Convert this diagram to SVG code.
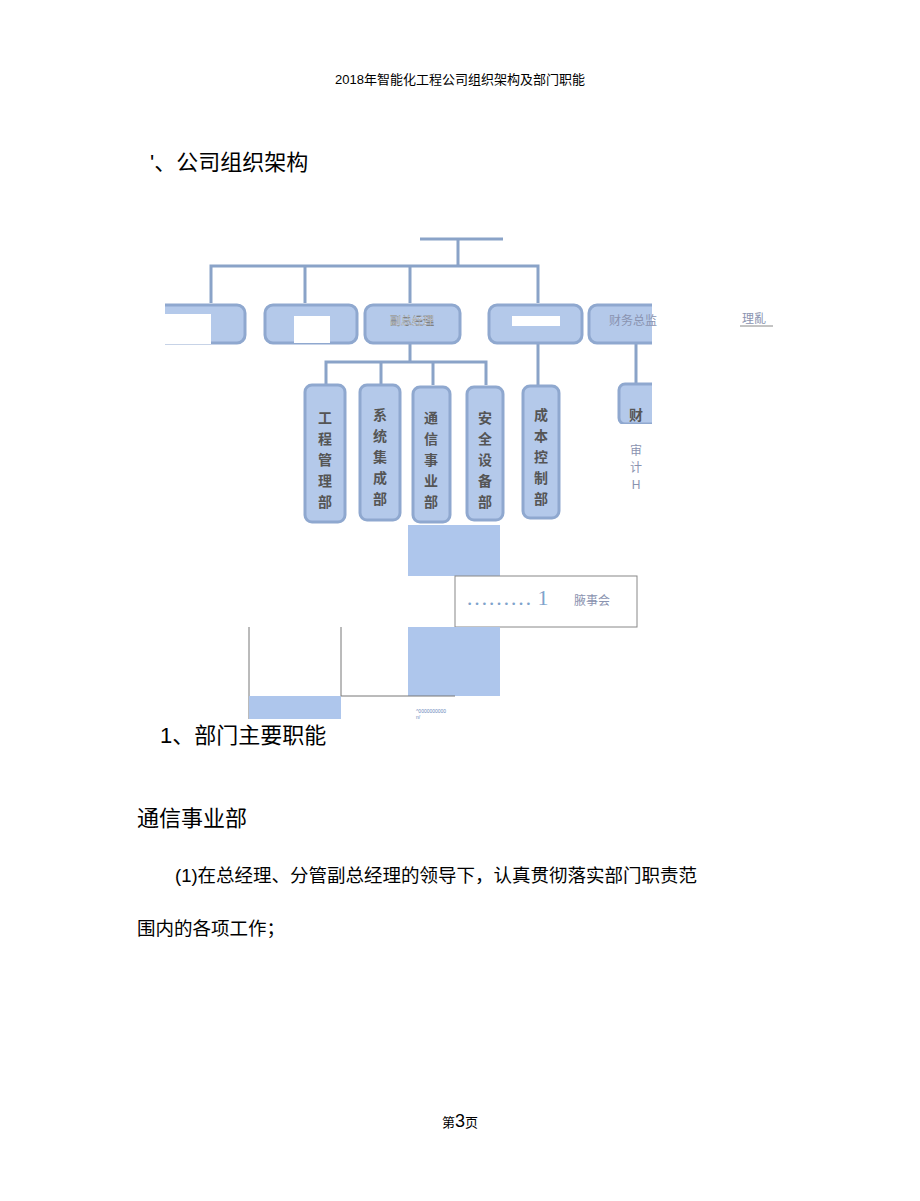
<svg xmlns="http://www.w3.org/2000/svg" width="920" height="1201" viewBox="0 0 920 1201">
<style>
.t{font-family:"Liberation Sans","Noto Sans CJK SC",sans-serif;fill:#000}
.b{fill:#b4c9ea;stroke:#8fa8cf;stroke-width:3}
.c{stroke:#8aa3c8;stroke-width:3;fill:none}
.v{font-family:"Noto Sans CJK SC",sans-serif;font-size:14px;fill:#555;text-anchor:middle;font-weight:bold}
.g{font-family:"Liberation Sans","Noto Sans CJK SC",sans-serif;fill:#8a93b0}
.f{fill:#aec6ec}
</style>
<rect width="920" height="1201" fill="#fff"/>
<text class="t" x="460" y="84" font-size="13" text-anchor="middle">2018年智能化工程公司组织架构及部门职能</text>
<text class="t" x="150" y="170" font-size="22">'、公司组织架构</text>
<g id="connectors">
<line x1="420" y1="239" x2="503" y2="239" class="c"/>
<path class="c" d="M458 239V266M211 303V266H538V303M305 266V303M410 266V303"/>
<path class="c" d="M410 343V362M326 385V362H486V385M381 362V385M433 362V385M538 343V385M636 343V383"/>
</g>
<g id="top-boxes">
<rect class="b" x="150" y="305" width="95" height="38" rx="8"/>
<rect x="140" y="300" width="25" height="48" fill="#fff"/>
<rect x="165" y="314" width="46" height="30" fill="#fff"/>
<rect class="b" x="265" y="305" width="92" height="38" rx="8"/>
<rect x="294" y="316" width="36" height="27" fill="#fff"/>
<rect class="b" x="365" y="305" width="95" height="38" rx="8"/>
<text x="412" y="325" font-family="Noto Sans CJK SC,sans-serif" font-size="11" fill="#fff" stroke="#666" stroke-width="0.3" text-anchor="middle">副总经理</text>
<rect class="b" x="489" y="305" width="93" height="38" rx="8"/>
<rect x="512" y="316" width="48" height="10" fill="#fff"/>
<rect class="b" x="589" y="305" width="80" height="38" rx="8"/>
<rect x="652" y="300" width="30" height="48" fill="#fff"/>
<text class="g" x="609" y="325" font-size="12">财务总监</text>
<text class="g" x="742" y="323" font-size="12">理亂</text>
<line x1="740" y1="326" x2="773" y2="326" stroke="#888" stroke-width="1"/>
</g>
<g id="departments">
<rect class="b" x="305" y="385" width="40" height="137" rx="7"/>
<text class="v" x="325" y="423">工</text><text class="v" x="325" y="444">程</text><text class="v" x="325" y="465">管</text><text class="v" x="325" y="486">理</text><text class="v" x="325" y="507">部</text>
<rect class="b" x="360" y="385" width="40" height="135" rx="7"/>
<text class="v" x="380" y="420">系</text><text class="v" x="380" y="441">统</text><text class="v" x="380" y="462">集</text><text class="v" x="380" y="483">成</text><text class="v" x="380" y="504">部</text>
<rect class="b" x="413" y="387" width="37" height="135" rx="7"/>
<text class="v" x="431" y="423">通</text><text class="v" x="431" y="444">信</text><text class="v" x="431" y="465">事</text><text class="v" x="431" y="486">业</text><text class="v" x="431" y="507">部</text>
<rect class="b" x="467" y="387" width="36" height="133" rx="7"/>
<text class="v" x="485" y="423">安</text><text class="v" x="485" y="444">全</text><text class="v" x="485" y="465">设</text><text class="v" x="485" y="486">备</text><text class="v" x="485" y="507">部</text>
<rect class="b" x="523" y="386" width="36" height="132" rx="7"/>
<text class="v" x="541" y="420">成</text><text class="v" x="541" y="441">本</text><text class="v" x="541" y="462">控</text><text class="v" x="541" y="483">制</text><text class="v" x="541" y="504">部</text>
<rect class="b" x="619" y="384" width="45" height="40" rx="6"/>
<rect x="652" y="378" width="20" height="50" fill="#fff"/>
<rect x="612" y="424" width="50" height="10" fill="#fff"/>
<text class="v" x="636" y="420">财</text>
<text class="g" x="636" y="455" font-size="12" text-anchor="middle">审</text>
<text class="g" x="636" y="472" font-size="12" text-anchor="middle">计</text>
<text class="g" x="636" y="489" font-size="12" text-anchor="middle" fill="#5577aa">H</text>
</g>
<g id="bottom">
<rect class="f" x="408" y="525" width="92" height="51"/>
<rect x="455" y="576" width="182" height="51" fill="#fff" stroke="#888" stroke-width="1"/>
<text x="466" y="605" font-family="Liberation Serif,serif" font-size="22" fill="#7fa3cc">……… 1</text>
<text class="g" x="574" y="605" font-size="12">腋事会</text>
<rect class="f" x="408" y="627" width="92" height="69"/>
<path d="M249 627V719M341 627V696H455" stroke="#777" stroke-width="1" fill="none"/>
<rect class="f" x="249" y="696" width="92" height="23"/>
<text x="416" y="713" font-family="Liberation Sans,sans-serif" font-size="5" fill="#6a88bb">^0000000000</text>
<text x="416" y="719" font-family="Liberation Sans,sans-serif" font-size="5" fill="#6a88bb">n/</text>
</g>
<text class="t" x="160" y="743" font-size="22">1、部门主要职能</text>
<text class="t" x="137" y="826" font-size="22">通信事业部</text>
<text class="t" x="175" y="882" font-size="18.5">(1)在总经理、分管副总经理的领导下，认真贯彻落实部门职责范</text>
<text class="t" x="137" y="935" font-size="18.5">围内的各项工作；</text>
<text class="t" x="460" y="1127" font-size="13" text-anchor="middle">第<tspan font-size="18">3</tspan>页</text>
</svg>
